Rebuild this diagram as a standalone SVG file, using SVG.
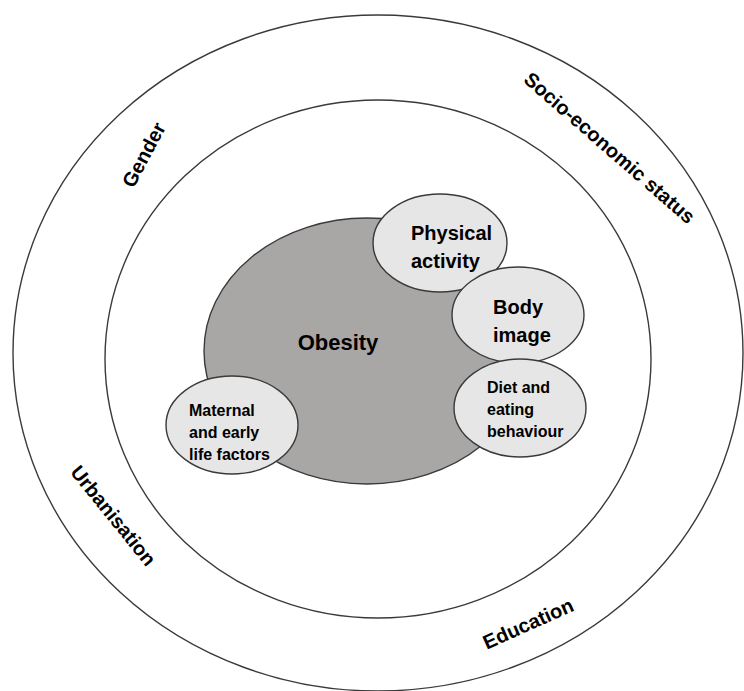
<svg xmlns="http://www.w3.org/2000/svg" width="744" height="691" viewBox="0 0 744 691">
  <style>
    .ring { fill: none; stroke: #3a3a3a; stroke-width: 1.4; }
    .core { fill: #a9a6a6; stroke: #3a3a3a; stroke-width: 1.4; }
    .factor { fill: #e6e6e6; stroke: #3a3a3a; stroke-width: 1.4; }
    text { font-family: "Liberation Sans", Arial, sans-serif; font-weight: bold; fill: #000; }
    .ctx { font-size: 20px; text-anchor: middle; }
    .big { font-size: 22px; text-anchor: middle; }
    .mid { font-size: 20px; }
    .small { font-size: 16px; }
  </style>
  <rect width="744" height="691" fill="#ffffff"/>

  <!-- context rings -->
  <g id="outer-ring">
    <ellipse class="ring" cx="378" cy="353" rx="365" ry="338"/>
    <text class="ctx" transform="translate(150 158) rotate(-62)">Gender</text>
    <text class="ctx" transform="translate(605 153) rotate(41)">Socio-economic status</text>
    <text class="ctx" transform="translate(108 520) rotate(51)">Urbanisation</text>
    <text class="ctx" transform="translate(531 630) rotate(-24)">Education</text>
  </g>
  <g id="inner-ring">
    <ellipse class="ring" cx="378" cy="359" rx="273" ry="259"/>
  </g>

  <!-- central condition -->
  <g id="obesity">
    <ellipse class="core" cx="367" cy="351" rx="163" ry="133"/>
    <text class="big" x="338" y="350">Obesity</text>
  </g>

  <!-- contributing factors -->
  <g id="physical-activity">
    <ellipse class="factor" cx="440" cy="243" rx="67" ry="49"/>
    <text class="mid" x="411" y="240">Physical</text>
    <text class="mid" x="411" y="268">activity</text>
  </g>
  <g id="body-image">
    <ellipse class="factor" cx="518" cy="315" rx="66" ry="48"/>
    <text class="mid" x="493" y="314">Body</text>
    <text class="mid" x="493" y="342">image</text>
  </g>
  <g id="diet">
    <ellipse class="factor" cx="520" cy="408" rx="66" ry="49"/>
    <text class="small" x="487" y="393">Diet and</text>
    <text class="small" x="487" y="415">eating</text>
    <text class="small" x="487" y="437">behaviour</text>
  </g>
  <g id="maternal">
    <ellipse class="factor" cx="232" cy="425" rx="66" ry="49"/>
    <text class="small" x="189" y="416">Maternal</text>
    <text class="small" x="189" y="438">and early</text>
    <text class="small" x="189" y="460">life factors</text>
  </g>

  <g id="connectors"/>
</svg>
